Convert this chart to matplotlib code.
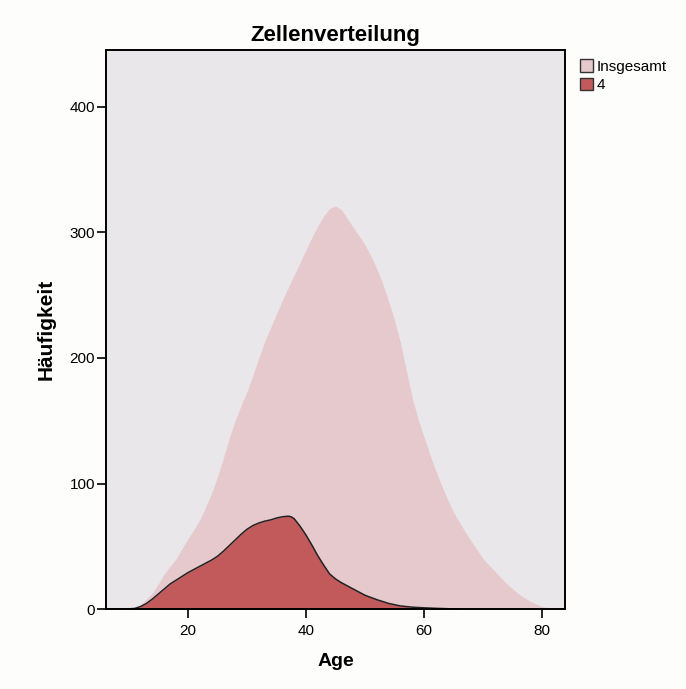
import matplotlib.pyplot as plt
import numpy as np
from matplotlib.patches import Patch

plt.rcParams['font.family'] = ['Liberation Sans', 'DejaVu Sans']

# Häufigkeitsverlauf über das Alter
age_total = [6, 8, 10, 11, 12, 13, 14, 15, 16, 17, 18, 19, 20, 21, 22, 23, 24,
             25, 26, 27, 28, 29, 30, 31, 32, 33, 34, 35, 36, 37, 38, 39, 40,
             41, 42, 43, 44, 45, 46, 47, 48, 49, 50, 51, 52, 53, 54, 55, 56,
             57, 58, 59, 60, 61, 62, 63, 64, 65, 66, 67, 68, 69, 70, 71, 72,
             73, 74, 75, 76, 77, 78, 79, 80, 82, 84]
freq_total = [0, 0, 0.5, 1.5, 4, 8, 13, 20, 28, 34, 40, 48, 56, 63, 71, 81,
              92, 105, 120, 136, 150, 162, 173, 186, 200, 213, 224, 235, 246,
              256, 266, 276, 286, 296, 305, 313, 319, 321, 318, 311, 304, 297,
              290, 281, 271, 259, 245, 230, 212, 190, 168, 151, 137, 123, 110,
              98, 87, 77, 69, 61, 54, 47, 40, 35, 30, 25, 20, 16, 12, 9, 6, 4,
              2, 0.5, 0]

age_4 = [6, 10, 11, 12, 13, 14, 15, 16, 17, 18, 19, 20, 21, 22, 23, 24, 25,
         26, 27, 28, 29, 30, 31, 32, 33, 34, 35, 36, 37, 37.5, 38, 39, 40, 41,
         42, 43, 44, 45, 46, 47, 48, 49, 50, 52, 54, 56, 58, 60, 62, 64, 66]
freq_4 = [0, 0.2, 0.5, 2, 4.5, 8, 12, 16, 20, 23, 26, 29, 31.5, 34, 36.5, 39,
          42, 46, 50.5, 55, 59.5, 63.5, 66.5, 68.5, 70, 71, 72.5, 73.5, 74,
          73.5, 72, 66, 59, 51, 42.5, 35, 28, 24, 21, 18.5, 16, 13.5, 11, 7.5,
          4.5, 2.5, 1.5, 1, 0.6, 0.3, 0]

labels = ['Insgesamt', '4']
col_total = '#e6c9cd'
col_4 = '#c25a5c'

fig = plt.figure(figsize=(6.86, 6.89), dpi=100, facecolor='#fdfdfb')
ax = fig.add_axes([0.155, 0.116, 0.669, 0.811])
ax.set_facecolor('#eae7eb')

ax.fill_between(age_total, freq_total, color=col_total, lw=0)
ax.fill_between(age_4, freq_4, color=col_4, lw=0)
ax.plot(age_4, freq_4, color='#222222', lw=1.1)

ax.set_xlim(6.2, 83.9)
ax.set_ylim(0, 445)
ax.set_xticks([20, 40, 60, 80])
ax.set_yticks([0, 100, 200, 300, 400])
ax.tick_params(direction='out', length=6.5, width=1.2, labelsize=11)
ax.tick_params(axis='x', pad=4)
ax.tick_params(axis='y', pad=1.5)
for s in ax.spines.values():
    s.set_linewidth(1.4)

ax.set_title('Zellenverteilung', fontsize=16, fontweight='bold', pad=7)
ax.set_xlabel('Age', fontsize=14, fontweight='bold', labelpad=11)
ax.set_ylabel('Häufigkeit', fontsize=15, fontweight='bold', labelpad=10)

handles = [Patch(facecolor=col_total, edgecolor='#333333'),
           Patch(facecolor=col_4, edgecolor='#333333')]
fig.legend(handles, labels, loc='upper left', bbox_to_anchor=(0.845, 0.914),
           frameon=False, fontsize=11, handlelength=0.9, handleheight=0.9,
           handletextpad=0.2, labelspacing=0.25, borderpad=0, borderaxespad=0)

fig.savefig('out.png', dpi=100, facecolor=fig.get_facecolor())
